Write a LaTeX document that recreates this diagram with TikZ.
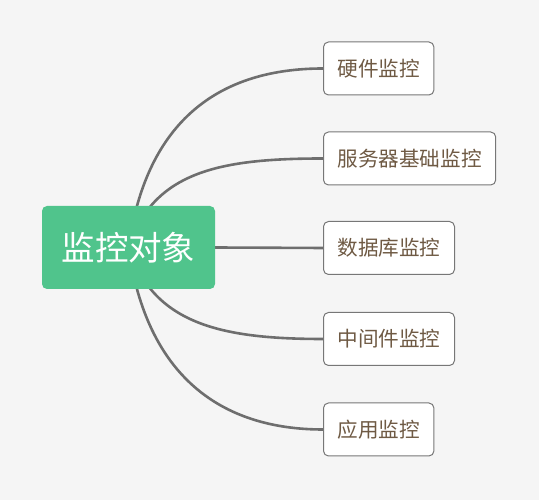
\documentclass[tikz,border=0pt]{standalone}
\usepackage{fontspec}
\newfontfamily\cjk{Noto Sans CJK SC}
\pgfdeclarelayer{bglayer}
\pgfdeclarelayer{edges}
\pgfsetlayers{bglayer,edges,main}
\definecolor{bgc}{HTML}{F5F5F5}
\definecolor{rootgreen}{HTML}{50C48C}
\definecolor{txtbrown}{HTML}{6F5A44}
\definecolor{boxborder}{HTML}{777777}
\definecolor{linegray}{HTML}{6E6E6E}
\tikzset{
  rootbox/.style={fill=rootgreen, draw=none, rounded corners=5pt, text=white,
    font=\cjk\fontsize{33.5}{36}\selectfont, minimum height=83pt, inner xsep=19.5pt, inner ysep=0pt},
  leafbox/.style={fill=white, draw=boxborder, line width=1pt, rounded corners=5pt, text=txtbrown,
    font=\cjk\fontsize{20.6}{24}\selectfont, minimum height=53pt, inner xsep=14pt, inner ysep=0pt, anchor=west},
  conn/.style={draw=linegray, line width=2.6pt}
}
\begin{document}
\begin{tikzpicture}
\useasboundingbox (0,0) rectangle (539pt,500pt);
\begin{pgfonlayer}{bglayer}
\fill[bgc] (0,0) rectangle (539pt,500pt);
\end{pgfonlayer}
\node[rootbox] (root) at (128.5pt,252.5pt) {监控对象};
\node[leafbox] (c1) at (323pt,431.5pt) {硬件监控};
\node[leafbox] (c2) at (323pt,341.5pt) {服务器基础监控};
\node[leafbox] (c3) at (323pt,252pt) {数据库监控};
\node[leafbox] (c4) at (323pt,161pt) {中间件监控};
\node[leafbox] (c5) at (323pt,70.5pt) {应用监控};
\begin{pgfonlayer}{edges}
\draw[conn] (root.center) to[out=82,in=180,out distance=129pt,in distance=103pt] (c1.west);
\draw[conn] (root.center) to[out=72,in=180,out distance=80pt,in distance=103pt] (c2.west);
\draw[conn] (root.east) -- (c3.west);
\draw[conn] (root.center) to[out=-72,in=180,out distance=80pt,in distance=103pt] (c4.west);
\draw[conn] (root.center) to[out=-82,in=180,out distance=129pt,in distance=103pt] (c5.west);
\end{pgfonlayer}
\end{tikzpicture}
\end{document}
